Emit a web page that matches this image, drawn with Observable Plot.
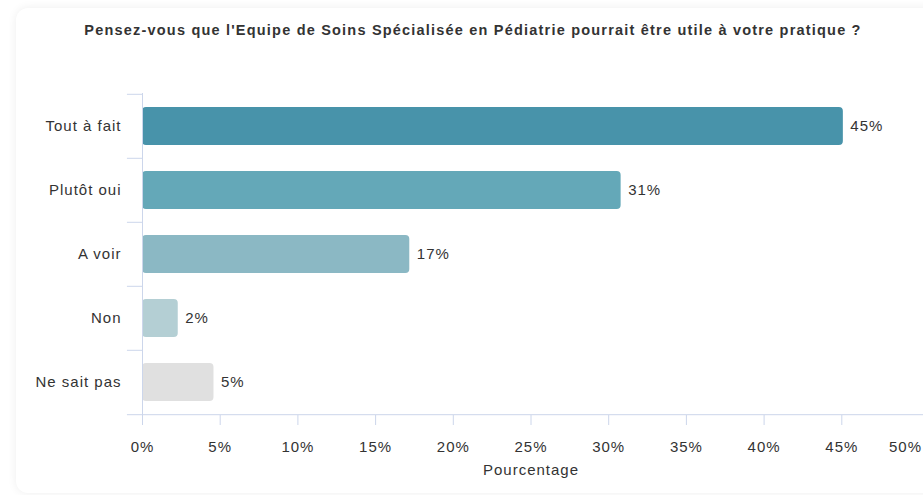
<!DOCTYPE html>
<html>
<head>
<meta charset="utf-8">
<script src="https://cdn.jsdelivr.net/npm/d3@7"></script>
<script src="https://cdn.jsdelivr.net/npm/@observablehq/plot@0.6"></script>
<style>
  html, body { margin: 0; padding: 0; background: #ffffff; width: 923px; height: 495px; overflow: hidden; }
  #card { position: absolute; left: 16px; top: 8px; width: 960px; height: 485px; background: #fff;
          border-radius: 12px; box-shadow: 0 0 10px rgba(0,0,0,0.07); }
  #title { position: absolute; left: 0; top: 22px; width: 946px; text-align: center; letter-spacing: 1.2px;
           font-family: "Liberation Sans", Arial, sans-serif; font-weight: bold; font-size: 14.5px; color: #333; }
  #chart { position: absolute; left: 0; top: 50px; }
  #chart svg text { letter-spacing: 1px; }
</style>
</head>
<body>
<div id="card"></div>
<div id="title">Pensez-vous que l'Equipe de Soins Spécialisée en Pédiatrie pourrait être utile à votre pratique ?</div>
<div id="chart"></div>
<script>
const categories = ["Tout à fait", "Plutôt oui", "A voir", "Non", "Ne sait pas"];
const values = [45.1, 30.8, 17.2, 2.3, 4.6];
const labels = ["45%", "31%", "17%", "2%", "5%"];
const colors = ["#4893aa", "#64a8b8", "#8bb8c4", "#b4cfd4", "#e0e0e0"];
const xTicks = [0, 5, 10, 15, 20, 25, 30, 35, 40, 45];
const lastTick = [50];
const axisTitle = "Pourcentage";

const data = categories.map((c, i) => ({cat: c, value: values[i], label: labels[i], color: colors[i]}));

const axisColor = "#ccd6eb";
const font = "Liberation Sans, Arial, sans-serif";
const width = 923, height = 445;
const marginTop = 43, marginBottom = 80, marginLeft = 142, marginRight = 4;
const step = (height - marginTop - marginBottom) / categories.length;

const plot = Plot.plot({
  width, height, marginTop, marginBottom, marginLeft, marginRight,
  style: {fontFamily: font, fontSize: "15px", color: "#333", background: "transparent", overflow: "visible"},
  x: {domain: [0, 50]},
  y: {domain: categories, paddingInner: 0.41, paddingOuter: 0.205, align: 0.5},
  marks: [
    Plot.ruleY(categories, {y: d => d, dy: -step / 2, x1: -0.97, x2: 0, stroke: axisColor, strokeWidth: 1}),
    Plot.ruleY([categories[categories.length - 1]], {y: d => d, dy: step / 2, x1: -0.97, x2: 50.3, stroke: axisColor, strokeWidth: 1}),
    Plot.barX(data, {y: "cat", x: "value", fill: "color", rx: 4}),
    Plot.ruleX([0], {stroke: axisColor, strokeWidth: 1, insetBottom: -10}),
    Plot.text(data, {y: "cat", x: "value", text: "label", textAnchor: "start", dx: 7, fill: "#333", fontSize: 15}),
    Plot.axisY({tickSize: 0, tickPadding: 21, label: null, fontSize: 15}),
    Plot.axisX({ticks: xTicks, tickFormat: d => d + "%", tickSize: 10, tickPadding: 16, stroke: axisColor, label: null, fontSize: 15, color: "#333"}),
    Plot.axisX({ticks: lastTick, tickFormat: d => d + "%", tickSize: 0, tickPadding: 26, dx: -14, label: null, fontSize: 15}),
    Plot.text([axisTitle], {frameAnchor: "bottom", dy: 59, fill: "#333", fontSize: 15})
  ]
});
document.getElementById("chart").appendChild(plot);
</script>
</body>
</html>
